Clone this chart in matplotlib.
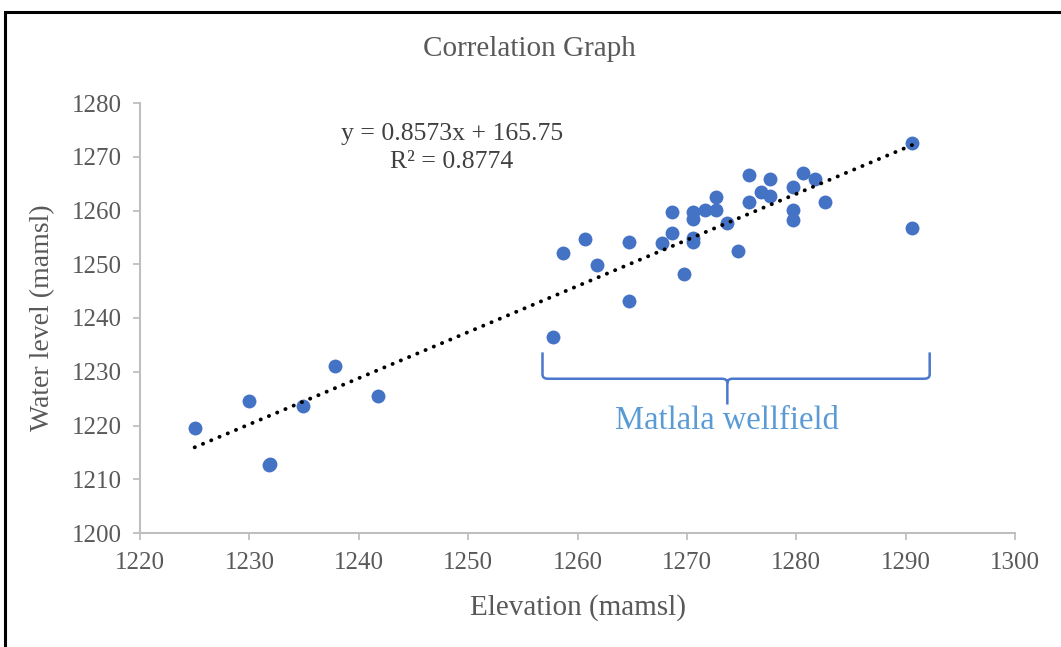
import matplotlib
matplotlib.use("Agg")
import matplotlib.pyplot as plt
import numpy as np
from matplotlib.patches import Rectangle
from matplotlib.path import Path
from matplotlib.patches import PathPatch

plt.rcParams['font.family'] = ['Liberation Serif', 'DejaVu Serif']

# Elevation (mamsl) of each borehole and its measured water level (mamsl)
elevation = [1225.0, 1230.0, 1231.8, 1231.9, 1234.9, 1237.8, 1241.8,
             1257.8, 1258.7, 1260.7, 1261.8, 1264.7, 1264.7, 1267.7,
             1268.6, 1268.6, 1269.7, 1270.6, 1270.6, 1270.6, 1270.6,
             1271.7, 1272.7, 1272.7, 1273.7, 1274.7, 1275.7, 1275.7,
             1276.8, 1277.6, 1277.6, 1279.7, 1279.7, 1279.7, 1280.6,
             1281.7, 1282.6, 1290.6, 1290.6]
water_level = [1219.5, 1224.6, 1212.6, 1212.8, 1223.6, 1231.0, 1225.4,
               1236.4, 1252.1, 1254.7, 1249.9, 1254.1, 1243.2, 1253.9,
               1259.7, 1255.8, 1248.2, 1259.7, 1258.4, 1254.9, 1254.2,
               1260.1, 1260.1, 1262.6, 1257.6, 1252.5, 1266.6, 1261.6,
               1263.4, 1265.8, 1262.7, 1264.4, 1260.1, 1258.2, 1266.9,
               1265.8, 1261.6, 1272.5, 1256.7]

slope, intercept = 0.8573, 165.75
r_squared = 0.8774

x_ticks = [1220, 1230, 1240, 1250, 1260, 1270, 1280, 1290, 1300]
y_ticks = [1200, 1210, 1220, 1230, 1240, 1250, 1260, 1270, 1280]

# Extent of the wellfield bracket (elevation range and height band)
bracket_x = (1256.8, 1292.2)
bracket_y = (1233.6, 1228.7, 1223.9)

grey_text = '#595959'
axis_grey = '#BFBFBF'
point_blue = '#4472C4'

fig = plt.figure(figsize=(10.61, 6.47), dpi=100)
ax = fig.add_axes([140 / 1061, 1 - 533 / 647, 875 / 1061, 430 / 647])

ax.scatter(elevation, water_level, s=100, color=point_blue, zorder=3,
           linewidths=0)

xt = np.array([min(elevation), max(elevation)])
ax.plot(xt, slope * xt + intercept, color='black', lw=2.8,
        linestyle=(0, (0.05, 2.25)), dash_capstyle='round', zorder=4)

ax.set_xlim(x_ticks[0], x_ticks[-1])
ax.set_ylim(y_ticks[0], y_ticks[-1])
ax.set_xticks(x_ticks)
ax.set_yticks(y_ticks)
for s in ['top', 'right']:
    ax.spines[s].set_visible(False)
for s in ['left', 'bottom']:
    ax.spines[s].set_color(axis_grey)
    ax.spines[s].set_linewidth(1.5)
ax.tick_params(axis='both', direction='out', length=5, width=1.3,
               color=axis_grey, labelcolor=grey_text, labelsize=18)
ax.tick_params(axis='x', pad=9)
ax.tick_params(axis='y', pad=8)

ax.set_xlabel('Elevation (mamsl)', fontsize=21, color=grey_text, labelpad=14)
ax.set_ylabel('Water level (mamsl)', fontsize=20, color=grey_text, labelpad=12)
fig.text(529 / 1061, 1 - 49 / 647, 'Correlation Graph', fontsize=21,
         color=grey_text, ha='center', va='center')

ax.text(1248.5, 1274.2, f'y = {slope}x + {intercept}', fontsize=18.5,
        color='#404040', ha='center', va='center')
ax.text(1248.5, 1269.0, f'R² = {r_squared}', fontsize=18.5,
        color='#404040', ha='center', va='center')

# Curly bracket marking the Matlala wellfield boreholes
x0, x1 = bracket_x
xm = (x0 + x1) / 2 - 0.8
ytop, ymid, ybot = bracket_y
r = 0.5
verts = [(x0, ytop), (x0, ymid + 0.8), (x0, ymid), (x0 + r, ymid),
         (xm - r, ymid), (xm, ymid), (xm, ymid - 0.8), (xm, ybot),
         (xm, ymid - 0.8), (xm, ymid), (xm + r, ymid),
         (x1 - r, ymid), (x1, ymid), (x1, ymid + 0.8), (x1, ytop)]
codes = [Path.MOVETO, Path.LINETO, Path.CURVE3, Path.CURVE3,
         Path.LINETO, Path.CURVE3, Path.CURVE3, Path.LINETO,
         Path.MOVETO, Path.CURVE3, Path.CURVE3,
         Path.LINETO, Path.CURVE3, Path.CURVE3, Path.LINETO]
ax.add_patch(PathPatch(Path(verts, codes), fill=False, edgecolor='#4A78CC',
                       lw=1.8, clip_on=False, zorder=2))
ax.text(xm, 1220.8, 'Matlala wellfield', fontsize=23.5, color='#5B9BD5',
        ha='center', va='center')

# Frame around the whole figure
fig.patches.append(Rectangle((5 / 1061, -0.1), 1.2, 1 - 12 / 647 + 0.1,
                             transform=fig.transFigure, fill=False,
                             edgecolor='black', lw=2.2, zorder=10))

fig.savefig('out.png', dpi=100)
